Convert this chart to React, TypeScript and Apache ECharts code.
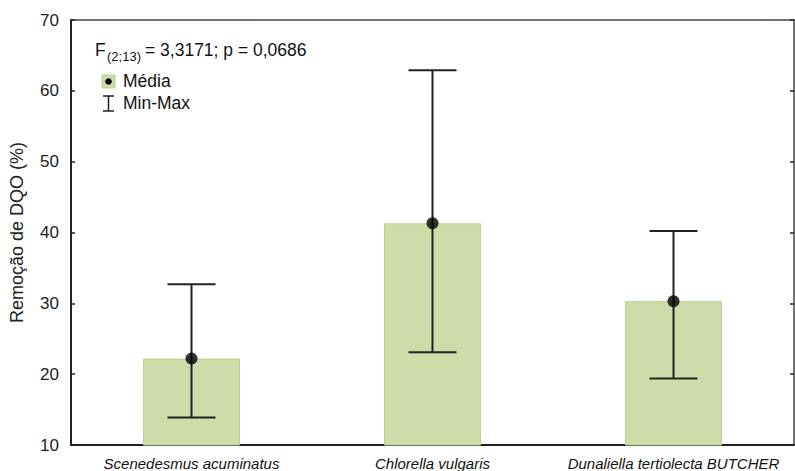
import React, { useEffect, useRef } from "react";
import * as echarts from "echarts";

const categories = ["Scenedesmus acuminatus", "Chlorella vulgaris", "Dunaliella tertiolecta BUTCHER"];
const means = [22.2, 41.3, 30.3];
const mins = [13.9, 23.1, 19.4];
const maxs = [32.7, 62.9, 40.2];
const yMin = 10;
const yMax = 70;
const yStep = 10;

const FONT = "'Liberation Sans', Arial, sans-serif";
const INK = "#222";
const BAR_FILL = "#cddca9";
const BAR_EDGE = "#b9cf95";

export default function App() {
  const ref = useRef<HTMLDivElement>(null);

  useEffect(() => {
    document.body.style.margin = "0";
    const chart = echarts.init(ref.current!, null, { renderer: "svg" });

    const rangeData = categories.map((_, i) => [i, mins[i], maxs[i]]);
    const txt = (text: string, x: number, y: number, size: number) => ({
      type: "text",
      x,
      y,
      style: { text, font: `${size}px ${FONT}`, fill: "#111", textVerticalAlign: "middle" },
    });

    chart.setOption({
      animation: false,
      backgroundColor: "#fff",
      grid: { left: 71, right: 1, top: 20, bottom: 26 },
      xAxis: [
        {
          type: "category",
          data: categories,
          position: "bottom",
          axisLine: { lineStyle: { color: INK, width: 2 } },
          axisTick: { alignWithLabel: true, inside: true, length: 5, lineStyle: { color: INK, width: 1.5 } },
          axisLabel: { interval: 0, fontFamily: FONT, fontSize: 15, fontStyle: "italic", color: "#111", margin: 11 },
        },
        {
          type: "category",
          data: categories,
          position: "top",
          axisLine: { lineStyle: { color: "#444", width: 1.5 } },
          axisTick: { alignWithLabel: true, inside: true, length: 5, lineStyle: { color: INK, width: 1.5 } },
          axisLabel: { show: false },
        },
      ],
      yAxis: [
        {
          type: "value",
          min: yMin,
          max: yMax,
          interval: yStep,
          position: "left",
          name: "Remoção de DQO (%)",
          nameLocation: "middle",
          nameGap: 45,
          nameTextStyle: { fontFamily: FONT, fontSize: 18, color: "#222" },
          splitLine: { show: false },
          axisLine: { show: true, lineStyle: { color: INK, width: 2 } },
          axisTick: { show: true, inside: true, length: 4, lineStyle: { color: INK, width: 1.5 } },
          axisLabel: { fontFamily: FONT, fontSize: 17, color: "#222", margin: 12 },
        },
        {
          type: "value",
          min: yMin,
          max: yMax,
          interval: yStep,
          position: "right",
          splitLine: { show: false },
          axisLine: { show: true, lineStyle: { color: "#444", width: 1.5 } },
          axisTick: { show: true, inside: true, length: 4, lineStyle: { color: INK, width: 1.5 } },
          axisLabel: { show: false },
        },
      ],
      series: [
        {
          type: "bar",
          data: means,
          barWidth: 97,
          itemStyle: { color: BAR_FILL, borderColor: BAR_EDGE, borderWidth: 1 },
          z: 2,
        },
        {
          type: "custom",
          data: rangeData,
          z: 3,
          renderItem: (params: any, api: any) => {
            const x = api.value(0);
            const lo = api.coord([x, api.value(1)]);
            const hi = api.coord([x, api.value(2)]);
            const half = 24;
            const style = { stroke: INK, lineWidth: 2 };
            return {
              type: "group",
              children: [
                { type: "line", shape: { x1: lo[0], y1: lo[1], x2: hi[0], y2: hi[1] }, style },
                { type: "line", shape: { x1: hi[0] - half, y1: hi[1], x2: hi[0] + half, y2: hi[1] }, style },
                { type: "line", shape: { x1: lo[0] - half, y1: lo[1], x2: lo[0] + half, y2: lo[1] }, style },
              ],
            };
          },
        },
        {
          type: "scatter",
          data: means,
          symbol: "circle",
          symbolSize: 12,
          itemStyle: { color: "#000" },
          z: 4,
        },
      ],
      graphic: [
        txt("F", 95, 50, 17.5),
        txt("(2;13)", 107, 56, 13),
        txt("= 3,3171; p = 0,0686", 145, 50, 17.5),
        { type: "rect", shape: { x: 102, y: 75, width: 13, height: 13 }, style: { fill: BAR_FILL, stroke: BAR_EDGE, lineWidth: 1 } },
        { type: "circle", shape: { cx: 108.5, cy: 81.5, r: 3.3 }, style: { fill: "#000" } },
        txt("Média", 123, 81, 17.5),
        { type: "line", shape: { x1: 108.5, y1: 96, x2: 108.5, y2: 111 }, style: { stroke: INK, lineWidth: 1.5 } },
        { type: "line", shape: { x1: 103, y1: 96, x2: 114, y2: 96 }, style: { stroke: INK, lineWidth: 1.5 } },
        { type: "line", shape: { x1: 103, y1: 111, x2: 114, y2: 111 }, style: { stroke: INK, lineWidth: 1.5 } },
        txt("Min-Max", 123, 103, 17.5),
      ],
    });

    return () => chart.dispose();
  }, []);

  return (
    <div
      ref={ref}
      style={{ position: "fixed", left: 0, top: 0, width: 795, height: 471 }}
    />
  );
}
